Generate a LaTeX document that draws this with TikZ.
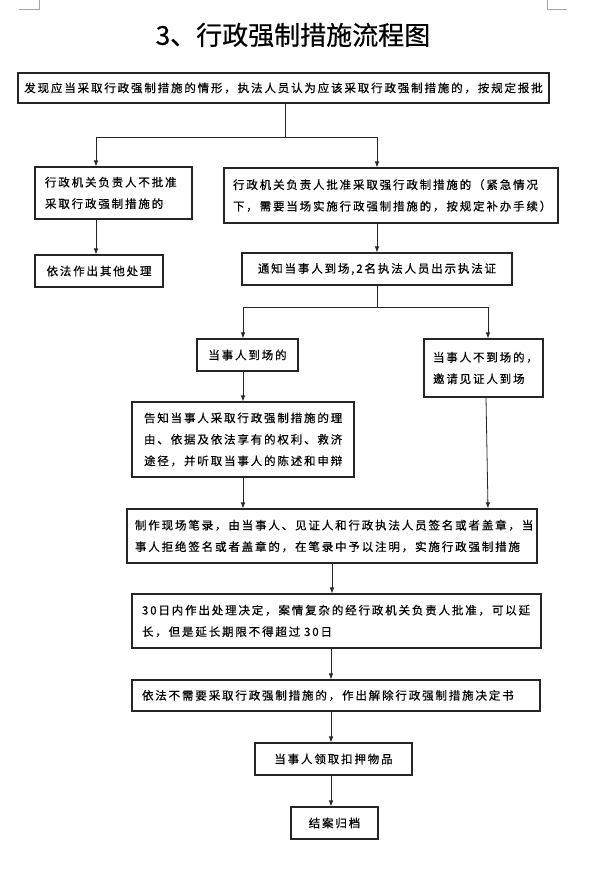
\documentclass[tikz,border=0pt]{standalone}
\usepackage{fontspec}
\newfontfamily\cjkbox{Noto Sans CJK SC}[LetterSpace=16,FakeBold=0.5]
\newfontfamily\cjktitle{Noto Sans CJK SC}[FakeBold=0.6]
\usetikzlibrary{arrows.meta}
\begin{document}
\begin{tikzpicture}[x=1pt,y=-1pt,
  box/.style={draw=black!85, line width=1.1pt, inner ysep=0pt, inner xsep=0pt,
    font=\cjkbox\fontsize{11.5}{21.5}\selectfont},
  cbox/.style={box, align=center},
  ln/.style={draw=black!85, line width=0.8pt},
  arr/.style={ln, -{Latex[length=6pt,width=4.5pt]}},
  cornermark/.style={draw=black!35, line width=0.6pt}]
\useasboundingbox (0,0) rectangle (595,878);
% corner marks
\draw[cornermark] (19,9) -- (39,9) -- (39,0);
\draw[cornermark] (547,0) -- (547,9) -- (567,9);
% title
\node (title) at (293,35) {\cjktitle\fontsize{26}{30}\selectfont 3、行政强制措施流程图};
% boxes
\node[cbox, minimum width=531pt, minimum height=30pt] (B1) at (283.5,88)
  {发现应当采取行政强制措施的情形，执法人员认为应该采取行政强制措施的，按规定报批};
\node[box, inner xsep=10pt, text width=137pt, minimum height=52pt, align=left] (B2) at (113.5,193)
  {行政机关负责人不批准\\采取行政强制措施的};
\node[box, inner xsep=9pt, text width=316pt, minimum height=55pt, align=left] (B3) at (391,195.5)
  {行政机关负责人批准采取强行政制措施的（紧急情况\\下，需要当场实施行政强制措施的，按规定补办手续）};
\node[cbox, minimum width=128pt, minimum height=32pt] (B4) at (99,271)
  {依法作出其他处理};
\node[cbox, minimum width=270pt, minimum height=32pt] (B5) at (377,269)
  {通知当事人到场,2名执法人员出示执法证};
\node[cbox, minimum width=101pt, minimum height=32pt] (B6) at (247.5,355)
  {当事人到场的};
\node[box, inner xsep=9pt, text width=101pt, minimum height=58pt, align=left] (B7) at (483.5,368)
  {当事人不到场的，\\邀请见证人到场};
\node[box, inner xsep=12pt, text width=198pt, minimum height=75pt, align=left] (B8) at (243,439.5)
  {告知当事人采取行政强制措施的理\\由、依据及依法享有的权利、救济\\途径，并听取当事人的陈述和申辩};
\node[box, inner xsep=8pt, text width=394pt, minimum height=54pt, align=left] (B9) at (332,536)
  {制作现场笔录，由当事人、见证人和行政执法人员签名或者盖章，当\\事人拒绝签名或者盖章的，在笔录中予以注明，实施行政强制措施};
\node[box, inner xsep=10pt, text width=389pt, minimum height=54pt, align=left] (B10) at (336.5,621)
  {30日内作出处理决定，案情复杂的经行政机关负责人批准，可以延\\长，但是延长期限不得超过 30日};
\node[box, inner xsep=10pt, text width=388pt, minimum height=31pt, align=left] (B11) at (336,695.5)
  {依法不需要采取行政强制措施的，作出解除行政强制措施决定书};
\node[cbox, minimum width=157pt, minimum height=32pt] (B12) at (333.5,759)
  {当事人领取扣押物品};
\node[cbox, minimum width=87pt, minimum height=32pt] (B13) at (334.5,823)
  {结案归档};
% junctions
\coordinate (j1) at (285,137);
\coordinate (j1l) at (96,137);
\coordinate (j1r) at (377,137);
\coordinate (j2) at (377,307);
\coordinate (j2l) at (243,307);
\coordinate (j2r) at (488,307);
% connectors
\draw[ln] (285,0 |- B1.south) -- (j1);
\draw[ln] (j1l) -- (j1r);
\draw[arr] (j1l) -- (96,0 |- B2.north);
\draw[arr] (j1r) -- (377,0 |- B3.north);
\draw[arr] (96,0 |- B2.south) -- (96,0 |- B4.north);
\draw[arr] (377,0 |- B3.south) -- (377,0 |- B5.north);
\draw[ln] (377,0 |- B5.south) -- (j2);
\draw[ln] (j2l) -- (j2r);
\draw[arr] (j2l) -- (243,0 |- B6.north);
\draw[arr] (j2r) -- (488,0 |- B7.north);
\draw[arr] (243,0 |- B6.south) -- (243,0 |- B8.north);
\draw[arr] (243,0 |- B8.south) -- (243,0 |- B9.north);
\draw[arr] (486,0 |- B7.south) -- (488,0 |- B9.north);
\draw[arr] (332,0 |- B9.south) -- (332,0 |- B10.north);
\draw[arr] (331,0 |- B10.south) -- (331,0 |- B11.north);
\draw[arr] (331,0 |- B11.south) -- (331,0 |- B12.north);
\draw[arr] (331,0 |- B12.south) -- (331,0 |- B13.north);
\end{tikzpicture}
\end{document}
